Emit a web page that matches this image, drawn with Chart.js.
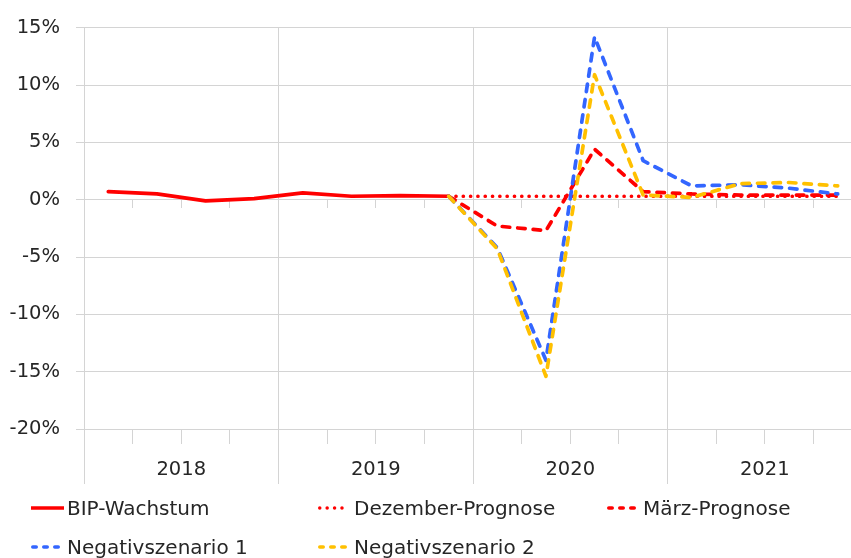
<!DOCTYPE html>
<html><head><meta charset="utf-8">
<script src="https://cdn.jsdelivr.net/npm/chart.js@4.4.1/dist/chart.umd.min.js"></script>
<style>
html,body{margin:0;padding:0;overflow:hidden;background:#fff;width:851px;height:558px;}
#wrap{position:relative;width:862px;height:558px;}
#legend{position:absolute;left:0;top:0;width:851px;height:558px;pointer-events:none;font-family:"DejaVu Sans";font-size:20px;color:#262626;}
.item{position:absolute;height:24px;display:flex;align-items:center;white-space:nowrap;}
.item svg{margin-right:3px;}
.c0{left:31px}.c1{left:318px}.c2{left:607px}
.r0{top:496px}.r1{top:535px}
</style></head><body>
<div id="wrap"><canvas id="c" width="862" height="558"></canvas><div id="legend"></div></div>
<script>
const quarters = ['2018 Q1','2018 Q2','2018 Q3','2018 Q4','2019 Q1','2019 Q2','2019 Q3','2019 Q4','2020 Q1','2020 Q2','2020 Q3','2020 Q4','2021 Q1','2021 Q2','2021 Q3','2021 Q4'];
const years = ['2018','2019','2020','2021'];
const bipWachstum      = [0.7, 0.5, -0.1, 0.1, 0.6, 0.3, 0.35, 0.3, null, null, null, null, null, null, null, null];
const dezemberPrognose = [null, null, null, null, null, null, null, 0.3, 0.3, 0.3, 0.3, 0.3, 0.3, 0.3, 0.3, 0.3];
const maerzPrognose    = [null, null, null, null, null, null, null, 0.3, -2.3, -2.7, 4.4, 0.7, 0.5, 0.4, 0.4, 0.4];
const negativszenario1 = [null, null, null, null, null, null, null, 0.3, -4.2, -14.0, 14.2, 3.4, 1.2, 1.3, 1.0, 0.5];
const negativszenario2 = [null, null, null, null, null, null, null, 0.3, -4.3, -15.4, 10.9, 0.4, 0.2, 1.4, 1.5, 1.2];
const seriesNames = ['BIP-Wachstum','Dezember-Prognose','März-Prognose','Negativszenario 1','Negativszenario 2'];
const yMin = -20, yMax = 15, yStep = 5;

const RED = '#ff0000', BLUE = '#3366ff', GOLD = '#ffc000', GRID = '#d4d4d4', TXT = '#262626';
const FONT = {family: 'DejaVu Sans', size: 19.5};
const DASH = [7.5, 8], DOT = [0.01, 7.3];
const styles = [
  {color: RED, dash: []},
  {color: RED, dash: DOT},
  {color: RED, dash: DASH},
  {color: BLUE, dash: DASH},
  {color: GOLD, dash: DASH}
];
const values = [bipWachstum, dezemberPrognose, maerzPrognose, negativszenario1, negativszenario2];

const datasets = values.map((v, i) => ({
  label: seriesNames[i],
  data: v,
  xAxisID: 'x',
  yAxisID: 'y',
  borderColor: styles[i].color,
  backgroundColor: styles[i].color,
  borderWidth: 3.7,
  borderDash: styles[i].dash,
  borderCapStyle: 'round',
  borderJoinStyle: 'round',
  pointRadius: 0,
  tension: 0,
  fill: false,
  order: 5 - i
}));

new Chart(document.getElementById('c'), {
  type: 'line',
  data: {labels: quarters, datasets},
  options: {
    responsive: false,
    animation: false,
    devicePixelRatio: 1,
    layout: {padding: {top: 24, bottom: 74, left: 0, right: 0}},
    plugins: {legend: {display: false}, tooltip: {enabled: false}},
    scales: {
      x: {
        type: 'category', position: 'bottom', offset: true, weight: 0,
        grid: {offset: true, drawOnChartArea: false, drawTicks: true, tickLength: 15, color: GRID, tickColor: GRID},
        border: {display: false},
        ticks: {display: false, autoSkip: false},
        afterFit: s => { s.height = 15; }
      },
      x2: {
        type: 'category', position: 'bottom', offset: true, weight: 1, labels: years,
        grid: {offset: true, drawOnChartArea: true, drawTicks: true, tickLength: 40, color: GRID, tickColor: GRID},
        border: {display: false},
        ticks: {autoSkip: false, maxRotation: 0, color: TXT, font: FONT, padding: -26},
        afterFit: s => { s.height = 40; }
      },
      x0: {
        type: 'category', position: {y: 0}, offset: true, axis: 'x',
        grid: {offset: true, drawOnChartArea: false, drawTicks: true, tickLength: 8, color: GRID, tickColor: GRID},
        border: {display: false},
        ticks: {display: false, autoSkip: false},
        afterFit: s => { s.height = 0; }
      },
      y: {
        type: 'linear', position: 'left', min: yMin, max: yMax,
        grid: {color: GRID, tickColor: GRID, tickLength: 8, drawTicks: true},
        border: {display: false},
        ticks: {stepSize: yStep, color: TXT, font: FONT, padding: 16, callback: v => v + '%'},
        afterFit: s => { s.width = 84; }
      }
    }
  }
});

// HTML legend
const legend = document.getElementById('legend');
const pos = [['c0','r0'],['c1','r0'],['c2','r0'],['c0','r1'],['c1','r1']];
const legendDash = ['', '0.01 7.4', '3.5 7.5', '3.5 7.5', '3.5 7.5'];
seriesNames.forEach((name, i) => {
  const d = document.createElement('div');
  d.className = 'item ' + pos[i].join(' ');
  const da = legendDash[i] ? ` stroke-dasharray="${legendDash[i]}"` : '';
  const x1 = i === 0 ? 0 : 1.75, x2 = i === 0 ? 33 : 31.3;
  d.innerHTML = `<svg width="33" height="10"><line x1="${x1}" y1="5" x2="${x2}" y2="5" stroke="${styles[i].color}" stroke-width="3.5" stroke-linecap="${i===0?'butt':'round'}"${da}/></svg><span>${name}</span>`;
  legend.appendChild(d);
});
</script>
</body></html>
